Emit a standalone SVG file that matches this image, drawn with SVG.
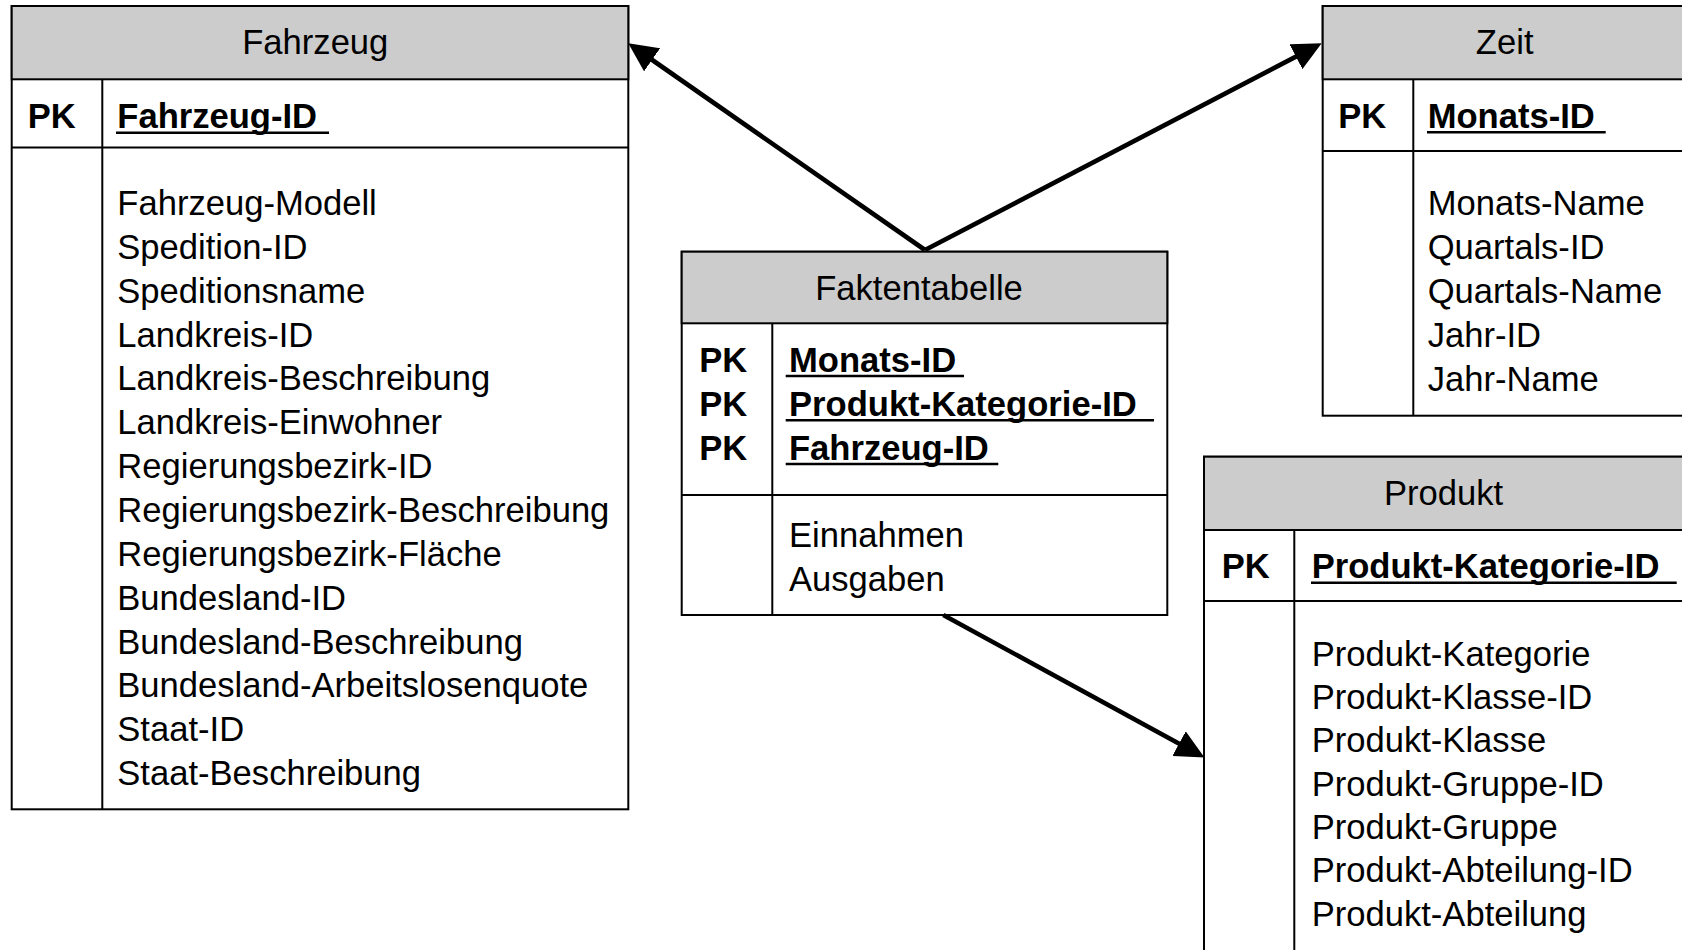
<svg xmlns="http://www.w3.org/2000/svg" width="1682" height="950" viewBox="0 0 1682 950">
<style>
.box{fill:#ffffff;stroke:#000000;stroke-width:2}
.hdr{fill:#cccccc;stroke:#000000;stroke-width:2}
.sep{stroke:#000000;stroke-width:2;fill:none}
.ul{stroke:#000000;stroke-width:2.4}
.t{font-family:"Liberation Sans",Arial,sans-serif;font-size:34.6px;fill:#000000}
.title{text-anchor:middle}
.b{font-weight:bold}
.conn{stroke:#000000;stroke-width:4.6;fill:none}
</style>
<defs>
<marker id="arrow" markerUnits="userSpaceOnUse" markerWidth="30" markerHeight="28" refX="19" refY="14" orient="auto" viewBox="0 0 30 28">
<path d="M0,0 L29,14 L0,28 z" fill="#000000"/>
</marker>
</defs>
<rect x="0" y="0" width="1682" height="950" fill="#ffffff"/>

<g id="fahrzeug">
<rect class="box" x="11.7" y="6" width="616.6" height="803.3"/>
<rect class="hdr" x="11.7" y="6" width="616.6" height="73.3"/>
<line class="sep" x1="11.7" y1="147.5" x2="628.3" y2="147.5"/>
<line class="sep" x1="102.3" y1="79.3" x2="102.3" y2="809.3"/>
<text class="t title" x="315.3" y="54.3">Fahrzeug</text>
<text class="t b" x="27.7" y="127.7">PK</text>
<text class="t b" x="117.3" y="127.7">Fahrzeug-ID</text>
<line class="ul" x1="116" y1="132.7" x2="329" y2="132.7"/>
<text class="t" x="117.3" y="215">Fahrzeug-Modell</text>
<text class="t" x="117.3" y="258.85">Spedition-ID</text>
<text class="t" x="117.3" y="302.7">Speditionsname</text>
<text class="t" x="117.3" y="346.55">Landkreis-ID</text>
<text class="t" x="117.3" y="390.4">Landkreis-Beschreibung</text>
<text class="t" x="117.3" y="434.25">Landkreis-Einwohner</text>
<text class="t" x="117.3" y="478.1">Regierungsbezirk-ID</text>
<text class="t" x="117.3" y="521.95">Regierungsbezirk-Beschreibung</text>
<text class="t" x="117.3" y="565.8">Regierungsbezirk-Fläche</text>
<text class="t" x="117.3" y="609.65">Bundesland-ID</text>
<text class="t" x="117.3" y="653.5">Bundesland-Beschreibung</text>
<text class="t" x="117.3" y="697.35">Bundesland-Arbeitslosenquote</text>
<text class="t" x="117.3" y="741.2">Staat-ID</text>
<text class="t" x="117.3" y="785.05">Staat-Beschreibung</text>
</g>

<g id="zeit">
<rect class="box" x="1322.7" y="6" width="364.3" height="409.7"/>
<rect class="hdr" x="1322.7" y="6" width="364.3" height="73.3"/>
<line class="sep" x1="1322.7" y1="151" x2="1687" y2="151"/>
<line class="sep" x1="1413.3" y1="79.3" x2="1413.3" y2="415.7"/>
<text class="t title" x="1504.7" y="54">Zeit</text>
<text class="t b" x="1338.3" y="127.7">PK</text>
<text class="t b" x="1427.7" y="127.7">Monats-ID</text>
<line class="ul" x1="1427" y1="132.3" x2="1605.7" y2="132.3"/>
<text class="t" x="1427.7" y="215.3">Monats-Name</text>
<text class="t" x="1427.7" y="259.2">Quartals-ID</text>
<text class="t" x="1427.7" y="303.1">Quartals-Name</text>
<text class="t" x="1427.7" y="347">Jahr-ID</text>
<text class="t" x="1427.7" y="390.9">Jahr-Name</text>
</g>

<g id="faktentabelle">
<rect class="box" x="681.7" y="251.7" width="485.6" height="363.3"/>
<rect class="hdr" x="681.7" y="251.7" width="485.6" height="71.6"/>
<line class="sep" x1="681.7" y1="495" x2="1167.3" y2="495"/>
<line class="sep" x1="772.3" y1="323.3" x2="772.3" y2="615"/>
<text class="t title" x="919" y="300">Faktentabelle</text>
<text class="t b" x="699.3" y="371.7">PK</text>
<text class="t b" x="699.3" y="415.7">PK</text>
<text class="t b" x="699.3" y="460">PK</text>
<text class="t b" x="789" y="371.7">Monats-ID</text>
<text class="t b" x="789" y="415.7">Produkt-Kategorie-ID</text>
<text class="t b" x="789" y="460">Fahrzeug-ID</text>
<line class="ul" x1="785.7" y1="376" x2="964" y2="376"/>
<line class="ul" x1="785.7" y1="420.2" x2="1154" y2="420.2"/>
<line class="ul" x1="785.7" y1="464" x2="998.3" y2="464"/>
<text class="t" x="789" y="547">Einnahmen</text>
<text class="t" x="789" y="591">Ausgaben</text>
</g>

<g id="produkt">
<rect class="box" x="1204" y="456.7" width="480" height="503.3"/>
<rect class="hdr" x="1204" y="456.7" width="480" height="73.3"/>
<line class="sep" x1="1204" y1="601" x2="1684" y2="601"/>
<line class="sep" x1="1294.3" y1="530" x2="1294.3" y2="960"/>
<text class="t title" x="1443.5" y="505">Produkt</text>
<text class="t b" x="1221.7" y="577.7">PK</text>
<text class="t b" x="1311.7" y="577.7">Produkt-Kategorie-ID</text>
<line class="ul" x1="1311" y1="582.7" x2="1676.7" y2="582.7"/>
<text class="t" x="1311.7" y="665.7">Produkt-Kategorie</text>
<text class="t" x="1311.7" y="709">Produkt-Klasse-ID</text>
<text class="t" x="1311.7" y="752.4">Produkt-Klasse</text>
<text class="t" x="1311.7" y="795.7">Produkt-Gruppe-ID</text>
<text class="t" x="1311.7" y="839">Produkt-Gruppe</text>
<text class="t" x="1311.7" y="882.4">Produkt-Abteilung-ID</text>
<text class="t" x="1311.7" y="925.7">Produkt-Abteilung</text>
</g>

<g id="connectors">
<line class="conn" x1="925" y1="250" x2="636.5" y2="49" marker-end="url(#arrow)"/>
<line class="conn" x1="925" y1="250" x2="1312.8" y2="47.9" marker-end="url(#arrow)"/>
<line class="conn" x1="943.3" y1="615" x2="1195.7" y2="752.7" marker-end="url(#arrow)"/>
</g>
</svg>
